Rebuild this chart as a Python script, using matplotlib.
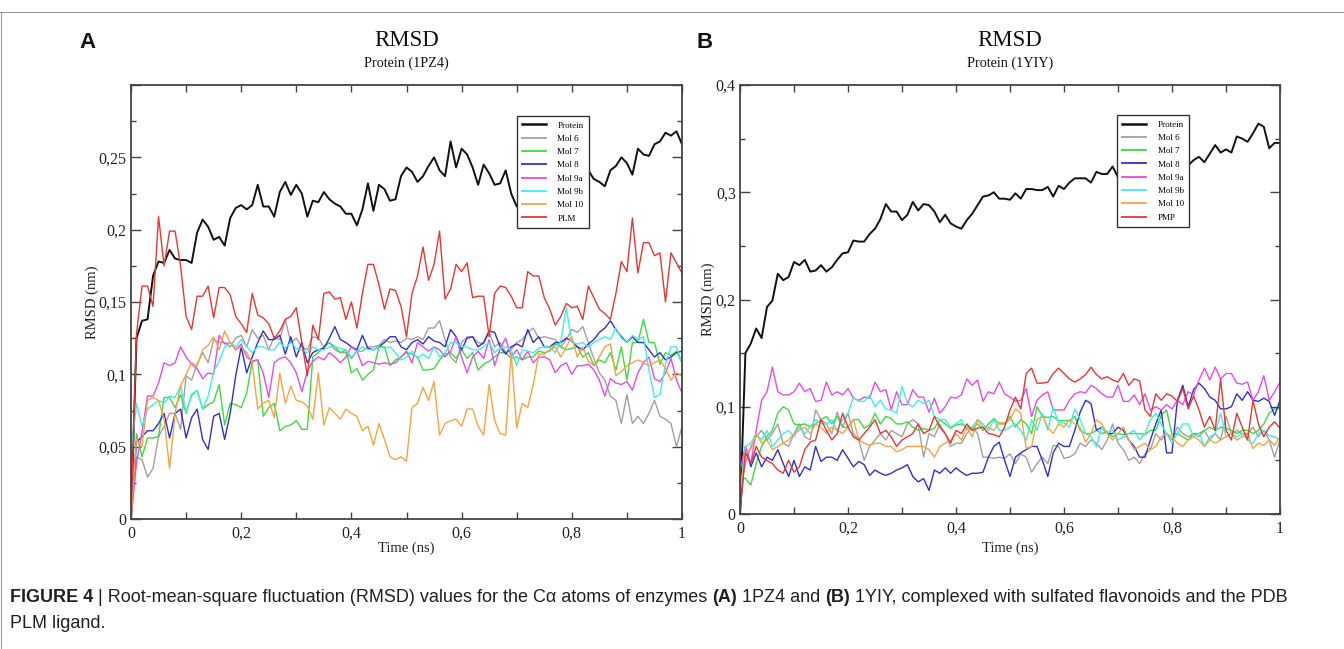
import matplotlib
matplotlib.use("Agg")
import matplotlib.pyplot as plt
import numpy as np
from matplotlib.lines import Line2D
from matplotlib.ticker import MultipleLocator, FuncFormatter
from matplotlib.transforms import IdentityTransform

# ---------------- data (RMSD in nm, one value every 0.01 ns) ----------------
NAMES_A = ["Protein", "Mol 6", "Mol 7", "Mol 8", "Mol 9a", "Mol 9b", "Mol 10", "PLM"]
NAMES_B = ["Protein", "Mol 6", "Mol 7", "Mol 8", "Mol 9a", "Mol 9b", "Mol 10", "PMP"]

A_PROTEIN = [0.000, 0.125, 0.137, 0.138, 0.168, 0.178, 0.177, 0.186, 0.180, 0.179,
             0.179, 0.177, 0.198, 0.207, 0.202, 0.193, 0.195, 0.189, 0.208, 0.215,
             0.217, 0.214, 0.217, 0.231, 0.216, 0.216, 0.209, 0.226, 0.233, 0.224,
             0.231, 0.225, 0.209, 0.220, 0.219, 0.226, 0.221, 0.218, 0.216, 0.211,
             0.211, 0.203, 0.214, 0.232, 0.213, 0.231, 0.228, 0.220, 0.221, 0.237,
             0.243, 0.240, 0.233, 0.237, 0.244, 0.250, 0.241, 0.237, 0.261, 0.243,
             0.256, 0.252, 0.243, 0.231, 0.245, 0.239, 0.231, 0.232, 0.241, 0.225,
             0.216, 0.225, 0.232, 0.238, 0.243, 0.236, 0.240, 0.246, 0.238, 0.242,
             0.236, 0.240, 0.244, 0.241, 0.235, 0.233, 0.230, 0.241, 0.244, 0.250,
             0.246, 0.238, 0.256, 0.252, 0.251, 0.259, 0.261, 0.267, 0.265, 0.268, 0.259]
A_MOL6 = [0.000, 0.043, 0.041, 0.029, 0.035, 0.057, 0.064, 0.073, 0.073, 0.062,
          0.099, 0.096, 0.107, 0.115, 0.108, 0.124, 0.122, 0.122, 0.119, 0.125,
          0.127, 0.119, 0.131, 0.125, 0.127, 0.117, 0.126, 0.124, 0.138, 0.122,
          0.125, 0.119, 0.117, 0.126, 0.125, 0.119, 0.122, 0.117, 0.115, 0.115,
          0.111, 0.116, 0.116, 0.119, 0.119, 0.120, 0.124, 0.122, 0.123, 0.122,
          0.125, 0.124, 0.126, 0.124, 0.132, 0.132, 0.137, 0.124, 0.112, 0.108,
          0.122, 0.126, 0.126, 0.122, 0.121, 0.129, 0.119, 0.122, 0.115, 0.117,
          0.122, 0.124, 0.129, 0.132, 0.125, 0.126, 0.125, 0.124, 0.119, 0.124,
          0.131, 0.129, 0.133, 0.122, 0.111, 0.101, 0.096, 0.085, 0.082, 0.066,
          0.086, 0.066, 0.071, 0.066, 0.073, 0.082, 0.071, 0.069, 0.066, 0.050, 0.064]
A_MOL7 = [0.000, 0.059, 0.043, 0.056, 0.056, 0.057, 0.084, 0.084, 0.077, 0.086,
          0.073, 0.086, 0.089, 0.076, 0.079, 0.081, 0.093, 0.065, 0.080, 0.079,
          0.077, 0.087, 0.109, 0.110, 0.071, 0.077, 0.080, 0.061, 0.064, 0.065,
          0.068, 0.062, 0.062, 0.112, 0.115, 0.119, 0.122, 0.119, 0.115, 0.117,
          0.101, 0.104, 0.096, 0.100, 0.103, 0.119, 0.119, 0.106, 0.110, 0.112,
          0.115, 0.114, 0.112, 0.103, 0.103, 0.104, 0.110, 0.114, 0.115, 0.111,
          0.117, 0.111, 0.115, 0.103, 0.107, 0.109, 0.112, 0.115, 0.115, 0.111,
          0.112, 0.110, 0.112, 0.112, 0.116, 0.115, 0.116, 0.121, 0.119, 0.117,
          0.118, 0.119, 0.112, 0.115, 0.106, 0.110, 0.108, 0.115, 0.103, 0.119,
          0.096, 0.122, 0.122, 0.138, 0.122, 0.122, 0.107, 0.115, 0.113, 0.116, 0.108]
A_MOL8 = [0.000, 0.053, 0.057, 0.061, 0.061, 0.066, 0.073, 0.056, 0.073, 0.076,
          0.056, 0.070, 0.076, 0.055, 0.048, 0.071, 0.073, 0.055, 0.073, 0.099,
          0.119, 0.101, 0.112, 0.122, 0.130, 0.124, 0.124, 0.127, 0.114, 0.126,
          0.112, 0.122, 0.108, 0.115, 0.117, 0.118, 0.125, 0.133, 0.124, 0.122,
          0.119, 0.117, 0.127, 0.118, 0.117, 0.119, 0.122, 0.126, 0.126, 0.119,
          0.117, 0.122, 0.124, 0.121, 0.126, 0.123, 0.122, 0.119, 0.131, 0.126,
          0.117, 0.125, 0.126, 0.119, 0.122, 0.130, 0.129, 0.119, 0.114, 0.119,
          0.121, 0.119, 0.131, 0.122, 0.126, 0.119, 0.119, 0.122, 0.122, 0.125,
          0.123, 0.119, 0.117, 0.121, 0.124, 0.129, 0.132, 0.137, 0.131, 0.126,
          0.122, 0.126, 0.122, 0.122, 0.117, 0.112, 0.115, 0.110, 0.112, 0.115, 0.116]
A_MOL9A = [0.000, 0.039, 0.060, 0.085, 0.085, 0.094, 0.108, 0.106, 0.108, 0.119,
           0.112, 0.107, 0.104, 0.097, 0.101, 0.100, 0.127, 0.121, 0.122, 0.117,
           0.121, 0.112, 0.109, 0.110, 0.101, 0.084, 0.108, 0.111, 0.112, 0.108,
           0.101, 0.088, 0.102, 0.109, 0.112, 0.110, 0.115, 0.112, 0.108, 0.112,
           0.119, 0.116, 0.106, 0.109, 0.108, 0.107, 0.108, 0.107, 0.108, 0.112,
           0.116, 0.108, 0.122, 0.119, 0.116, 0.119, 0.117, 0.112, 0.116, 0.126,
           0.112, 0.101, 0.112, 0.116, 0.111, 0.124, 0.106, 0.118, 0.125, 0.112,
           0.117, 0.110, 0.116, 0.108, 0.112, 0.112, 0.110, 0.101, 0.106, 0.108,
           0.100, 0.106, 0.106, 0.107, 0.103, 0.096, 0.085, 0.097, 0.094, 0.093,
           0.095, 0.089, 0.101, 0.108, 0.112, 0.097, 0.095, 0.101, 0.111, 0.096, 0.087]
A_MOL9B = [0.045, 0.080, 0.064, 0.076, 0.079, 0.082, 0.080, 0.085, 0.084, 0.092,
           0.074, 0.085, 0.089, 0.076, 0.085, 0.102, 0.109, 0.119, 0.122, 0.119,
           0.124, 0.119, 0.115, 0.119, 0.119, 0.117, 0.117, 0.122, 0.118, 0.122,
           0.118, 0.117, 0.115, 0.119, 0.117, 0.117, 0.119, 0.119, 0.118, 0.117,
           0.112, 0.116, 0.119, 0.117, 0.117, 0.119, 0.118, 0.119, 0.115, 0.110,
           0.112, 0.116, 0.111, 0.114, 0.111, 0.119, 0.112, 0.115, 0.122, 0.122,
           0.119, 0.119, 0.117, 0.117, 0.119, 0.122, 0.115, 0.118, 0.119, 0.117,
           0.106, 0.117, 0.116, 0.115, 0.118, 0.119, 0.119, 0.115, 0.123, 0.146,
           0.122, 0.121, 0.122, 0.119, 0.122, 0.124, 0.126, 0.124, 0.132, 0.125,
           0.122, 0.127, 0.124, 0.126, 0.103, 0.084, 0.086, 0.107, 0.119, 0.119, 0.108]
A_MOL10 = [0.000, 0.055, 0.050, 0.082, 0.084, 0.082, 0.069, 0.035, 0.073, 0.092,
           0.100, 0.108, 0.106, 0.117, 0.120, 0.126, 0.117, 0.130, 0.122, 0.117,
           0.119, 0.115, 0.108, 0.076, 0.080, 0.082, 0.070, 0.101, 0.080, 0.092,
           0.082, 0.081, 0.078, 0.069, 0.101, 0.065, 0.077, 0.073, 0.069, 0.076,
           0.073, 0.071, 0.061, 0.064, 0.051, 0.066, 0.055, 0.043, 0.041, 0.043,
           0.040, 0.077, 0.080, 0.091, 0.082, 0.095, 0.058, 0.066, 0.068, 0.069,
           0.064, 0.076, 0.076, 0.064, 0.058, 0.093, 0.068, 0.059, 0.058, 0.115,
           0.063, 0.080, 0.077, 0.093, 0.114, 0.114, 0.117, 0.119, 0.112, 0.119,
           0.126, 0.112, 0.119, 0.109, 0.106, 0.112, 0.119, 0.121, 0.099, 0.102,
           0.106, 0.108, 0.110, 0.108, 0.106, 0.108, 0.110, 0.104, 0.096, 0.101, 0.099]
A_PLM = [0.000, 0.128, 0.161, 0.161, 0.147, 0.209, 0.175, 0.199, 0.199, 0.175,
         0.140, 0.131, 0.154, 0.154, 0.161, 0.139, 0.160, 0.160, 0.155, 0.140,
         0.135, 0.129, 0.156, 0.141, 0.139, 0.135, 0.125, 0.130, 0.138, 0.140,
         0.146, 0.122, 0.099, 0.134, 0.124, 0.156, 0.157, 0.152, 0.153, 0.138,
         0.150, 0.132, 0.156, 0.176, 0.176, 0.162, 0.145, 0.159, 0.158, 0.147,
         0.126, 0.156, 0.168, 0.188, 0.165, 0.176, 0.199, 0.152, 0.159, 0.176,
         0.171, 0.177, 0.153, 0.154, 0.154, 0.126, 0.156, 0.161, 0.160, 0.154,
         0.146, 0.146, 0.171, 0.168, 0.168, 0.153, 0.145, 0.134, 0.140, 0.149,
         0.146, 0.147, 0.138, 0.161, 0.153, 0.145, 0.142, 0.138, 0.156, 0.178,
         0.171, 0.208, 0.170, 0.191, 0.191, 0.182, 0.184, 0.150, 0.184, 0.177, 0.170]

B_PROTEIN = [0.000, 0.150, 0.159, 0.173, 0.164, 0.193, 0.199, 0.224, 0.218, 0.221,
             0.235, 0.232, 0.237, 0.226, 0.227, 0.232, 0.226, 0.230, 0.237, 0.243,
             0.244, 0.255, 0.254, 0.254, 0.261, 0.266, 0.275, 0.289, 0.282, 0.282,
             0.274, 0.279, 0.291, 0.283, 0.289, 0.288, 0.282, 0.272, 0.279, 0.271,
             0.268, 0.266, 0.274, 0.280, 0.288, 0.296, 0.297, 0.300, 0.294, 0.294,
             0.293, 0.299, 0.294, 0.303, 0.303, 0.302, 0.302, 0.305, 0.296, 0.306,
             0.303, 0.309, 0.313, 0.313, 0.313, 0.309, 0.319, 0.317, 0.317, 0.324,
             0.314, 0.318, 0.321, 0.316, 0.322, 0.325, 0.320, 0.318, 0.323, 0.326,
             0.321, 0.324, 0.328, 0.325, 0.330, 0.333, 0.328, 0.336, 0.344, 0.337,
             0.340, 0.337, 0.352, 0.350, 0.347, 0.355, 0.364, 0.361, 0.341, 0.346, 0.346]
B_MOL6 = [0.020, 0.047, 0.063, 0.072, 0.078, 0.069, 0.075, 0.084, 0.066, 0.063,
          0.075, 0.084, 0.072, 0.069, 0.097, 0.088, 0.084, 0.075, 0.095, 0.081,
          0.094, 0.075, 0.069, 0.050, 0.063, 0.069, 0.075, 0.069, 0.078, 0.075,
          0.072, 0.084, 0.088, 0.084, 0.053, 0.075, 0.072, 0.084, 0.075, 0.063,
          0.066, 0.066, 0.075, 0.081, 0.075, 0.053, 0.053, 0.052, 0.053, 0.052,
          0.056, 0.047, 0.056, 0.053, 0.039, 0.047, 0.053, 0.047, 0.064, 0.063,
          0.052, 0.053, 0.056, 0.066, 0.063, 0.069, 0.066, 0.060, 0.069, 0.084,
          0.066, 0.060, 0.050, 0.053, 0.047, 0.056, 0.060, 0.075, 0.069, 0.075,
          0.069, 0.081, 0.075, 0.072, 0.075, 0.072, 0.078, 0.069, 0.075, 0.069,
          0.091, 0.075, 0.078, 0.075, 0.075, 0.081, 0.072, 0.078, 0.069, 0.053, 0.069]
B_MOL7 = [0.035, 0.033, 0.027, 0.047, 0.063, 0.072, 0.078, 0.094, 0.100, 0.097,
          0.084, 0.083, 0.084, 0.081, 0.084, 0.088, 0.091, 0.084, 0.091, 0.081,
          0.081, 0.088, 0.088, 0.080, 0.083, 0.094, 0.084, 0.091, 0.089, 0.084,
          0.084, 0.086, 0.081, 0.078, 0.080, 0.078, 0.080, 0.088, 0.084, 0.080,
          0.083, 0.084, 0.081, 0.080, 0.084, 0.078, 0.084, 0.089, 0.084, 0.084,
          0.091, 0.081, 0.088, 0.084, 0.075, 0.100, 0.091, 0.090, 0.091, 0.087,
          0.087, 0.087, 0.091, 0.078, 0.075, 0.075, 0.078, 0.075, 0.077, 0.072,
          0.075, 0.074, 0.075, 0.075, 0.075, 0.074, 0.078, 0.078, 0.092, 0.097,
          0.074, 0.075, 0.072, 0.069, 0.075, 0.075, 0.078, 0.081, 0.078, 0.081,
          0.080, 0.078, 0.075, 0.078, 0.078, 0.075, 0.078, 0.084, 0.094, 0.098, 0.098]
B_MOL8 = [0.000, 0.063, 0.044, 0.057, 0.044, 0.053, 0.050, 0.060, 0.047, 0.035,
          0.050, 0.035, 0.044, 0.041, 0.063, 0.049, 0.053, 0.053, 0.050, 0.060,
          0.052, 0.044, 0.049, 0.046, 0.036, 0.041, 0.038, 0.036, 0.038, 0.041,
          0.043, 0.046, 0.035, 0.030, 0.033, 0.022, 0.041, 0.038, 0.043, 0.038,
          0.043, 0.039, 0.036, 0.038, 0.038, 0.039, 0.053, 0.063, 0.067, 0.050,
          0.035, 0.053, 0.057, 0.060, 0.063, 0.063, 0.050, 0.035, 0.057, 0.066,
          0.063, 0.063, 0.078, 0.095, 0.106, 0.103, 0.078, 0.081, 0.075, 0.075,
          0.081, 0.078, 0.069, 0.063, 0.053, 0.053, 0.069, 0.084, 0.097, 0.057,
          0.057, 0.106, 0.120, 0.100, 0.116, 0.122, 0.117, 0.109, 0.106, 0.098,
          0.098, 0.100, 0.112, 0.106, 0.114, 0.106, 0.105, 0.108, 0.105, 0.092, 0.106]
B_MOL9A = [0.040, 0.063, 0.047, 0.078, 0.106, 0.114, 0.137, 0.114, 0.111, 0.111,
           0.114, 0.122, 0.114, 0.117, 0.105, 0.106, 0.123, 0.111, 0.114, 0.111,
           0.117, 0.108, 0.106, 0.109, 0.108, 0.123, 0.114, 0.116, 0.097, 0.114,
           0.102, 0.102, 0.116, 0.109, 0.109, 0.095, 0.108, 0.094, 0.100, 0.109,
           0.108, 0.111, 0.126, 0.120, 0.125, 0.105, 0.114, 0.112, 0.123, 0.112,
           0.109, 0.105, 0.106, 0.117, 0.091, 0.106, 0.111, 0.114, 0.097, 0.097,
           0.097, 0.106, 0.112, 0.114, 0.113, 0.120, 0.117, 0.112, 0.109, 0.109,
           0.120, 0.105, 0.105, 0.111, 0.102, 0.112, 0.097, 0.100, 0.097, 0.102,
           0.098, 0.106, 0.102, 0.114, 0.111, 0.125, 0.136, 0.125, 0.137, 0.126,
           0.131, 0.131, 0.122, 0.121, 0.123, 0.106, 0.114, 0.129, 0.106, 0.114, 0.123]
B_MOL9B = [0.020, 0.063, 0.066, 0.075, 0.069, 0.078, 0.063, 0.069, 0.075, 0.078,
           0.072, 0.081, 0.075, 0.081, 0.088, 0.084, 0.084, 0.088, 0.078, 0.088,
           0.094, 0.109, 0.105, 0.105, 0.111, 0.100, 0.106, 0.098, 0.097, 0.094,
           0.119, 0.103, 0.100, 0.106, 0.103, 0.106, 0.091, 0.088, 0.088, 0.081,
           0.084, 0.088, 0.078, 0.081, 0.088, 0.084, 0.078, 0.088, 0.078, 0.078,
           0.081, 0.084, 0.078, 0.069, 0.088, 0.078, 0.094, 0.078, 0.100, 0.085,
           0.085, 0.081, 0.098, 0.088, 0.075, 0.072, 0.063, 0.081, 0.075, 0.078,
           0.069, 0.072, 0.075, 0.078, 0.069, 0.075, 0.088, 0.094, 0.084, 0.075,
           0.066, 0.075, 0.084, 0.084, 0.072, 0.075, 0.063, 0.072, 0.075, 0.094,
           0.072, 0.075, 0.072, 0.075, 0.069, 0.066, 0.075, 0.078, 0.073, 0.072, 0.069]
B_MOL10 = [0.020, 0.057, 0.060, 0.075, 0.066, 0.069, 0.060, 0.063, 0.066, 0.069,
           0.075, 0.078, 0.081, 0.075, 0.084, 0.081, 0.075, 0.081, 0.078, 0.075,
           0.081, 0.088, 0.069, 0.066, 0.064, 0.066, 0.066, 0.063, 0.063, 0.058,
           0.060, 0.063, 0.063, 0.063, 0.063, 0.060, 0.053, 0.063, 0.066, 0.069,
           0.075, 0.069, 0.081, 0.072, 0.088, 0.081, 0.081, 0.078, 0.085, 0.085,
           0.088, 0.098, 0.094, 0.061, 0.063, 0.088, 0.091, 0.081, 0.075, 0.084,
           0.081, 0.088, 0.084, 0.081, 0.067, 0.075, 0.088, 0.084, 0.075, 0.069,
           0.075, 0.081, 0.069, 0.060, 0.063, 0.066, 0.060, 0.063, 0.072, 0.075,
           0.072, 0.066, 0.063, 0.069, 0.072, 0.069, 0.063, 0.069, 0.066, 0.069,
           0.072, 0.075, 0.069, 0.072, 0.075, 0.061, 0.066, 0.064, 0.069, 0.064, 0.072]
B_PMP = [0.000, 0.057, 0.047, 0.063, 0.053, 0.050, 0.047, 0.041, 0.038, 0.050,
         0.039, 0.044, 0.060, 0.067, 0.069, 0.088, 0.078, 0.069, 0.075, 0.094,
         0.081, 0.072, 0.069, 0.075, 0.081, 0.088, 0.075, 0.078, 0.072, 0.063,
         0.069, 0.072, 0.075, 0.084, 0.075, 0.078, 0.091, 0.081, 0.075, 0.066,
         0.078, 0.075, 0.084, 0.078, 0.080, 0.081, 0.075, 0.074, 0.072, 0.081,
         0.097, 0.109, 0.098, 0.131, 0.136, 0.122, 0.122, 0.123, 0.131, 0.136,
         0.131, 0.126, 0.123, 0.126, 0.130, 0.137, 0.130, 0.126, 0.128, 0.125,
         0.123, 0.131, 0.120, 0.126, 0.124, 0.097, 0.091, 0.112, 0.106, 0.112,
         0.110, 0.105, 0.117, 0.098, 0.110, 0.097, 0.081, 0.091, 0.078, 0.126,
         0.078, 0.069, 0.094, 0.081, 0.069, 0.106, 0.084, 0.072, 0.081, 0.086, 0.080]

COLORS = ["#111111", "#a89e9e", "#3cdc3c", "#3030cc", "#e84ae8",
          "#3eeeee", "#f5a443", "#e63636"]
SERIF = "Liberation Serif"
SANS = "Liberation Sans"
W, H = 1344, 649


def comma(v, pos, hide=None):
    if hide is not None and abs(v - hide) < 1e-9:
        return ""
    if abs(v) < 1e-12:
        return "0"
    return f"{v:g}".replace(".", ",")


def draw_panel(ax, series, names, ymax, ystep, hide_top):
    for values, name, color in zip(series, names, COLORS):
        t = np.linspace(0, 1, len(values))
        lw = 1.4 if name == "Protein" else 1.0
        ax.plot(t, values, color=color, lw=lw, label=name)
    ax.set_xlim(0, 1)
    ax.set_ylim(0, ymax)
    ax.xaxis.set_major_locator(MultipleLocator(0.2))
    ax.xaxis.set_minor_locator(MultipleLocator(0.1))
    ax.yaxis.set_major_locator(MultipleLocator(ystep))
    ax.yaxis.set_minor_locator(MultipleLocator(ystep / 2))
    ax.xaxis.set_major_formatter(FuncFormatter(comma))
    hide = ymax if hide_top else None
    ax.yaxis.set_major_formatter(FuncFormatter(lambda v, p: comma(v, p, hide)))
    ax.tick_params(which="both", direction="in", top=True, right=True,
                   color="#444444", width=1.0)
    ax.tick_params(axis="x", which="both", length=5, pad=5)
    ax.tick_params(axis="y", which="major", length=7, pad=3)
    ax.tick_params(axis="y", which="minor", length=3.5)
    for lab in ax.get_xticklabels() + ax.get_yticklabels():
        lab.set_fontfamily(SERIF)
        lab.set_fontsize(11.5)
        lab.set_color("#222222")
    for sp in ax.spines.values():
        sp.set_color("#444444")
        sp.set_linewidth(1.3)
    ax.set_xlabel("Time (ns)", family=SERIF, fontsize=10.5, color="#222222")
    ax.set_ylabel("RMSD (nm)", family=SERIF, fontsize=10.5, color="#222222")


fig = plt.figure(figsize=(W / 100, H / 100), dpi=100)

ax_a = fig.add_axes([131 / W, 1 - 519 / H, 551 / W, 434 / H])
ax_b = fig.add_axes([740 / W, 1 - 514 / H, 540 / W, 429 / H])

draw_panel(ax_a, [A_PROTEIN, A_MOL6, A_MOL7, A_MOL8, A_MOL9A, A_MOL9B, A_MOL10, A_PLM],
           NAMES_A, 0.3, 0.05, True)
draw_panel(ax_b, [B_PROTEIN, B_MOL6, B_MOL7, B_MOL8, B_MOL9A, B_MOL9B, B_MOL10, B_PMP],
           NAMES_B, 0.4, 0.1, False)

ax_a.xaxis.set_label_coords(0.5, -0.052)
ax_a.yaxis.set_label_coords(-0.058, 0.5)
ax_b.xaxis.set_label_coords(0.5, -0.063)
ax_b.yaxis.set_label_coords(-0.046, 0.5)

for ax, anchor in [(ax_a, (0.700, 0.929)), (ax_b, (0.698, 0.930))]:
    leg = ax.legend(loc="upper left", bbox_to_anchor=anchor, prop={"family": SERIF, "size": 6.5},
                    frameon=True, fancybox=False, framealpha=1, edgecolor="#333333",
                    borderpad=0.6, labelspacing=0.55, handlelength=2.6, handletextpad=1.3,
                    borderaxespad=0)
    leg.get_frame().set_linewidth(1.0)
    for line in leg.get_lines():
        line.set_linewidth(1.8 if line.get_label() == "Protein" else 1.3)

# titles
for ax, sub in [(ax_a, "Protein (1PZ4)"), (ax_b, "Protein (1YIY)")]:
    box = ax.get_position()
    cx = (box.x0 + box.x1) / 2
    fig.text(cx, 1 - 40 / H, "RMSD", family=SERIF, fontsize=16.5, ha="center", va="center",
             color="#111111")
    fig.text(cx, 1 - 63 / H, sub, family=SERIF, fontsize=10.2, ha="center", va="center",
             color="#111111")

fig.text(87 / W, 1 - 42 / H, "A", family=SANS, fontweight="bold", fontsize=16,
         ha="center", va="center", color="#111111")
fig.text(705 / W, 1 - 42 / H, "B", family=SANS, fontweight="bold", fontsize=16,
         ha="center", va="center", color="#111111")

# page frame lines
fig.add_artist(Line2D([0, 1], [1 - 12 / H, 1 - 12 / H], color="#9a9a9a", lw=0.8))
fig.add_artist(Line2D([0.5 / W, 0.5 / W], [0, 1 - 12 / H], color="#9a9a9a", lw=0.8))

# caption with bold runs
renderer = fig.canvas.get_renderer()


def write_runs(x, y_base, runs, size):
    space = (fig.text(0, 0, "a a", fontsize=size, family=SANS).get_window_extent(renderer).width
             - fig.text(0, 0, "aa", fontsize=size, family=SANS).get_window_extent(renderer).width)
    for artist in fig.texts[-2:]:
        artist.remove()
    for i, (text, weight) in enumerate(runs):
        if i > 0:
            x += space
        t = fig.text(x, H - y_base, text, family=SANS, fontweight=weight, fontsize=size,
                     color="#231f20", ha="left", va="baseline", transform=IdentityTransform())
        x += t.get_window_extent(renderer).width


line1 = [("FIGURE 4", "bold"),
         ("| Root-mean-square fluctuation (RMSD) values for the C\u03b1 atoms of enzymes", "normal"),
         ("(A)", "bold"), ("1PZ4 and", "normal"), ("(B)", "bold"),
         ("1YIY, complexed with sulfated flavonoids and the PDB", "normal")]
write_runs(10, 602, line1, 13.0)
write_runs(10, 628, [("PLM ligand.", "normal")], 13.0)

fig.savefig("out.png", dpi=100)
plt.close(fig)
